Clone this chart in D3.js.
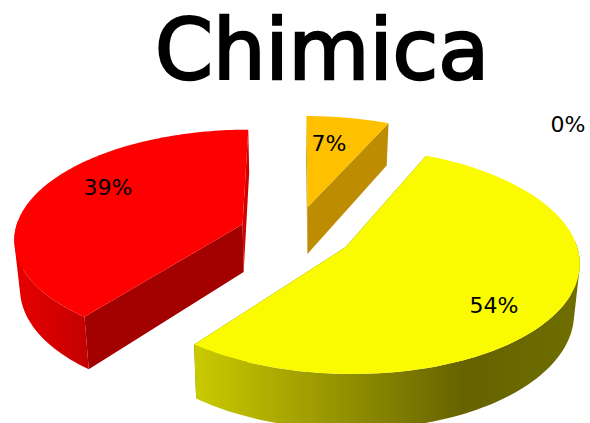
<!DOCTYPE html>
<html>
<head>
<meta charset="utf-8">
<style>
html, body { margin: 0; padding: 0; background: #fff; }
svg { display: block; }
text { font-family: "DejaVu Sans", sans-serif; fill: #000; }
</style>
<script src="https://cdn.jsdelivr.net/npm/d3@7"></script>
</head>
<body>
<div id="chart"></div>
<script>
var chartTitle = "Chimica";
var categories = ["arancio", "giallo", "rosso", "vuoto"];
var values = [6.7, 53.6, 39.4, 0];
var topColors = ["#ffc000", "#fafa00", "#ff0000", "#ffffff"];
var edgeColors = ["#bd8c00", "#6b6b00", "#a30000", "#ffffff"];
var sideColors = ["#b88800", "#d6d600", "#d20000", "#ffffff"];
var labelAt = [[329, 143], [494, 305], [108, 187], [568, 124]];

var width = 590, height = 423;
var explode = 0.25, depth = 48, persp = 0.12;
var cx = 296, cy = 233;

var svg = d3.select("#chart").append("svg")
    .attr("width", width)
    .attr("height", height);

// ground plane is -1..1, the perspective divide squeezes the far side
var x = d3.scaleLinear().domain([-1, 1]).range([cx - 228, cx + 228]);
var y = d3.scaleLinear().domain([-1, 1]).range([cy + 108, cy - 108]);

function project(u, v, drop) {
    var w = 1 + persp * v;
    var px = x(u / w), py = y(v / w);
    if (drop) {
        px = cx + (px - cx) * 0.98; // verticals lean in a bit
        py = py + depth / w;
    }
    return [px, py];
}

var pie = d3.pie().sort(null).value(function(d) { return d; });
var arcs = pie(values);
var line = d3.line();
var pct = d3.format(".0%");
var steps = d3.range(0, 121);

function offset(d) {
    var mid = (d.startAngle + d.endAngle) / 2;
    return [explode * Math.sin(mid), explode * Math.cos(mid)];
}
function angleAt(d, i) {
    return d.startAngle + (d.endAngle - d.startAngle) * i / 120;
}
// points round the rim of a slice, moved out along its bisector
function rim(d, drop) {
    var o = offset(d);
    return steps.map(function(i) {
        var a = angleAt(d, i);
        return project(o[0] + Math.sin(a), o[1] + Math.cos(a), drop);
    });
}
function apex(d, drop) {
    var o = offset(d);
    return project(o[0], o[1], drop);
}

var defs = svg.append("defs");
var yellowWall = defs.append("linearGradient")
    .attr("id", "wall1")
    .attr("gradientUnits", "userSpaceOnUse")
    .attr("x1", 193).attr("x2", 581).attr("y1", 0).attr("y2", 0);
yellowWall.append("stop").attr("offset", 0).attr("stop-color", "#cbcb00");
yellowWall.append("stop").attr("offset", 0.7).attr("stop-color", "#666200");
yellowWall.append("stop").attr("offset", 1).attr("stop-color", "#6e6e00");
var redWall = defs.append("linearGradient")
    .attr("id", "wall2")
    .attr("gradientUnits", "userSpaceOnUse")
    .attr("x1", 14).attr("x2", 87).attr("y1", 0).attr("y2", 0);
redWall.append("stop").attr("offset", 0).attr("stop-color", "#e80000");
redWall.append("stop").attr("offset", 1).attr("stop-color", "#c40000");

arcs.forEach(function(d, i) {
    if (d.value === 0) return;
    var g = svg.append("g").attr("class", categories[i]);
    var top = rim(d, false), low = rim(d, true);
    var a0 = apex(d, false), a1 = apex(d, true);

    // cut face at the start angle, then the one at the end angle
    g.append("path")
        .attr("d", line([a0, top[0], low[0], a1]) + "Z")
        .attr("fill", i === 0 ? sideColors[i] : edgeColors[i]);
    g.append("path")
        .attr("d", line([a0, top[120], low[120], a1]) + "Z")
        .attr("fill", i === 2 ? sideColors[i] : edgeColors[i]);

    // outer wall, only the part facing us. all quads wound the same way or the
    // overlapping ones cancel out where the side turns
    var wall = "";
    steps.slice(1).forEach(function(s) {
        if (Math.cos(angleAt(d, s)) > 0.05) return;
        var quad = [top[s - 1], top[s], low[s], low[s - 1]];
        if (d3.polygonArea(quad) < 0) quad.reverse();
        wall += line(quad) + "Z";
    });
    if (wall) {
        g.append("path")
            .attr("d", wall)
            .attr("fill", "url(#wall" + i + ")");
    }
    // top face
    g.append("path")
        .attr("d", line([a0].concat(top)) + "Z")
        .attr("fill", topColors[i]);
});

svg.selectAll("text.label")
    .data(values)
    .enter()
    .append("text")
    .attr("class", "label")
    .attr("x", function(d, i) { return labelAt[i][0]; })
    .attr("y", function(d, i) { return labelAt[i][1]; })
    .attr("dy", "0.36em")
    .attr("text-anchor", "middle")
    .style("font-size", "22px")
    .text(function(d) { return pct(d / 100); });

svg.append("text")
    .attr("x", 322)
    .attr("y", 79)
    .attr("text-anchor", "middle")
    .style("font-size", "83px")
    .style("stroke", "#000")
    .style("stroke-width", "2.5px")
    .text(chartTitle);
</script>
</body>
</html>
